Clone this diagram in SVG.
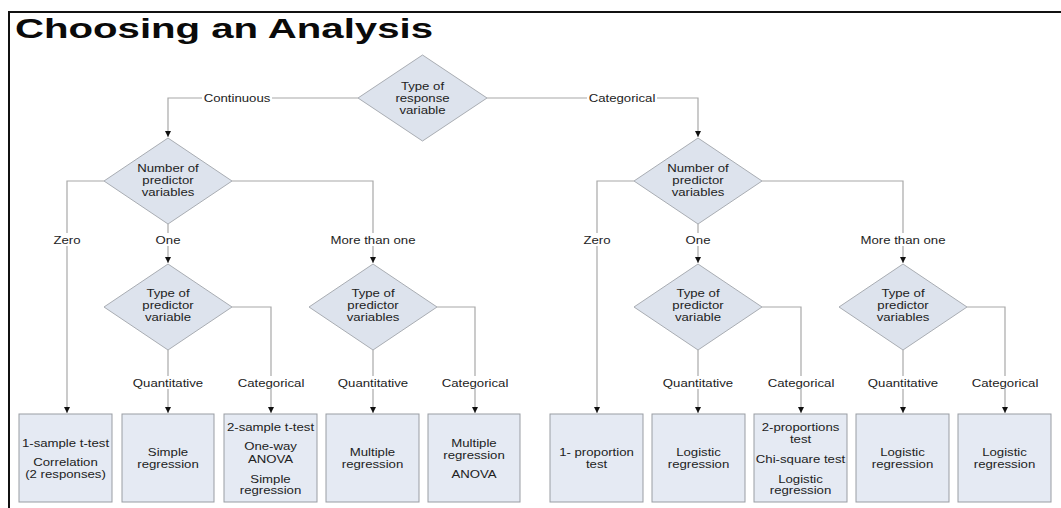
<svg xmlns="http://www.w3.org/2000/svg" width="1061" height="508" viewBox="0 0 1061 508">
<style>
.frame{stroke:#111;stroke-width:2;fill:none}
.title{font-family:"Liberation Sans",Arial,sans-serif;font-weight:bold;font-size:28px;fill:#0a0a0a}
.dia{fill:#dde3ed;stroke:#a9adb3;stroke-width:1}
.box{fill:#e5eaf3;stroke:#999da3;stroke-width:1}
.t{font-family:"Liberation Sans",Arial,sans-serif;font-size:11px;fill:#222;text-anchor:middle}
.conn path{fill:none;stroke:#a8a8a8;stroke-width:1.2;marker-end:url(#arr)}
.lbg{fill:#ffffff}
</style>
<defs>
<marker id="arr" markerUnits="userSpaceOnUse" markerWidth="7" markerHeight="6" refX="6" refY="3" orient="auto">
<path d="M0,0 L6,3 L0,6 z" fill="#111"/>
</marker>
</defs>
<rect width="1061" height="508" fill="#ffffff"/>
<path class="frame" d="M9,508 V12 H1061"/>
<text class="title" x="15" y="38" textLength="418" lengthAdjust="spacingAndGlyphs">Choosing an Analysis</text>

<g id="connectors" class="conn">
<path d="M358,98 H168 V137"/>
<path d="M487,98 H698 V137"/>
<path d="M104,181 H67 V413"/>
<path d="M168,224 V263"/>
<path d="M232,181 H373 V263"/>
<path d="M168,350 V413"/>
<path d="M232,307 H271 V413"/>
<path d="M373,350 V413"/>
<path d="M437,307 H475 V413"/>
<path d="M634,181 H597 V413"/>
<path d="M698,224 V263"/>
<path d="M762,181 H903 V263"/>
<path d="M698,350 V413"/>
<path d="M762,307 H801 V413"/>
<path d="M903,350 V413"/>
<path d="M967,307 H1005 V413"/>
</g>

<g id="labels">
<rect class="lbg" x="202" y="91" width="70" height="13"/>
<text class="t" transform="translate(237 0) scale(1.2 1)" y="102">Continuous</text>
<rect class="lbg" x="587" y="91" width="70" height="13"/>
<text class="t" transform="translate(622 0) scale(1.2 1)" y="102">Categorical</text>
<rect class="lbg" x="52" y="233" width="30" height="13"/>
<text class="t" transform="translate(67 0) scale(1.2 1)" y="244">Zero</text>
<rect class="lbg" x="154" y="233" width="28" height="13"/>
<text class="t" transform="translate(168 0) scale(1.2 1)" y="244">One</text>
<rect class="lbg" x="329" y="233" width="88" height="13"/>
<text class="t" transform="translate(373 0) scale(1.2 1)" y="244">More than one</text>
<rect class="lbg" x="582" y="233" width="30" height="13"/>
<text class="t" transform="translate(597 0) scale(1.2 1)" y="244">Zero</text>
<rect class="lbg" x="684" y="233" width="28" height="13"/>
<text class="t" transform="translate(698 0) scale(1.2 1)" y="244">One</text>
<rect class="lbg" x="859" y="233" width="88" height="13"/>
<text class="t" transform="translate(903 0) scale(1.2 1)" y="244">More than one</text>
<rect class="lbg" x="131" y="376" width="74" height="13"/>
<text class="t" transform="translate(168 0) scale(1.2 1)" y="387">Quantitative</text>
<rect class="lbg" x="236" y="376" width="70" height="13"/>
<text class="t" transform="translate(271 0) scale(1.2 1)" y="387">Categorical</text>
<rect class="lbg" x="336" y="376" width="74" height="13"/>
<text class="t" transform="translate(373 0) scale(1.2 1)" y="387">Quantitative</text>
<rect class="lbg" x="440" y="376" width="70" height="13"/>
<text class="t" transform="translate(475 0) scale(1.2 1)" y="387">Categorical</text>
<rect class="lbg" x="661" y="376" width="74" height="13"/>
<text class="t" transform="translate(698 0) scale(1.2 1)" y="387">Quantitative</text>
<rect class="lbg" x="766" y="376" width="70" height="13"/>
<text class="t" transform="translate(801 0) scale(1.2 1)" y="387">Categorical</text>
<rect class="lbg" x="866" y="376" width="74" height="13"/>
<text class="t" transform="translate(903 0) scale(1.2 1)" y="387">Quantitative</text>
<rect class="lbg" x="970" y="376" width="70" height="13"/>
<text class="t" transform="translate(1005 0) scale(1.2 1)" y="387">Categorical</text>
</g>

<g id="response-type">
<polygon class="dia" points="422.5,55 487,98 422.5,141 358,98"/>
<g class="t" transform="translate(422.5 0) scale(1.2 1)"><text class="t" y="90">Type of</text><text class="t" y="102">response</text><text class="t" y="114">variable</text></g>
</g>

<g id="num-pred-cont">
<polygon class="dia" points="168,138 232,181 168,224 104,181"/>
<g transform="translate(168 0) scale(1.2 1)"><text class="t" y="172.5">Number of</text><text class="t" y="184.5">predictor</text><text class="t" y="196.5">variables</text></g>
</g>
<g id="num-pred-cat">
<polygon class="dia" points="698,138 762,181 698,224 634,181"/>
<g transform="translate(698 0) scale(1.2 1)"><text class="t" y="172.5">Number of</text><text class="t" y="184.5">predictor</text><text class="t" y="196.5">variables</text></g>
</g>

<g id="type-pred-cont-one">
<polygon class="dia" points="168,264 232,307 168,350 104,307"/>
<g transform="translate(168 0) scale(1.2 1)"><text class="t" y="297.5">Type of</text><text class="t" y="309.5">predictor</text><text class="t" y="321.5">variable</text></g>
</g>
<g id="type-pred-cont-more">
<polygon class="dia" points="373,264 437,307 373,350 309,307"/>
<g transform="translate(373 0) scale(1.2 1)"><text class="t" y="297.5">Type of</text><text class="t" y="309.5">predictor</text><text class="t" y="321.5">variables</text></g>
</g>
<g id="type-pred-cat-one">
<polygon class="dia" points="698,264 762,307 698,350 634,307"/>
<g transform="translate(698 0) scale(1.2 1)"><text class="t" y="297.5">Type of</text><text class="t" y="309.5">predictor</text><text class="t" y="321.5">variable</text></g>
</g>
<g id="type-pred-cat-more">
<polygon class="dia" points="903,264 967,307 903,350 839,307"/>
<g transform="translate(903 0) scale(1.2 1)"><text class="t" y="297.5">Type of</text><text class="t" y="309.5">predictor</text><text class="t" y="321.5">variables</text></g>
</g>

<g id="box-1sample">
<rect class="box" x="19" y="414" width="93" height="88"/>
<g transform="translate(65.5 0) scale(1.2 1)"><text class="t" y="446.7">1-sample t-test</text><text class="t" y="466">Correlation</text><text class="t" y="478">(2 responses)</text></g>
</g>
<g id="box-simple-reg">
<rect class="box" x="122" y="414" width="92" height="88"/>
<g transform="translate(168 0) scale(1.2 1)"><text class="t" y="456">Simple</text><text class="t" y="468">regression</text></g>
</g>
<g id="box-2sample">
<rect class="box" x="224" y="414" width="93" height="88"/>
<g transform="translate(270.5 0) scale(1.2 1)"><text class="t" y="430.7">2-sample t-test</text><text class="t" y="450">One-way</text><text class="t" y="462.7">ANOVA</text><text class="t" y="482.7">Simple</text><text class="t" y="494">regression</text></g>
</g>
<g id="box-multiple-reg">
<rect class="box" x="326" y="414" width="93" height="88"/>
<g transform="translate(372.5 0) scale(1.2 1)"><text class="t" y="456">Multiple</text><text class="t" y="468">regression</text></g>
</g>
<g id="box-multiple-anova">
<rect class="box" x="428" y="414" width="92" height="88"/>
<g transform="translate(474 0) scale(1.2 1)"><text class="t" y="446.7">Multiple</text><text class="t" y="458.7">regression</text><text class="t" y="478">ANOVA</text></g>
</g>

<g id="box-1prop">
<rect class="box" x="550" y="414" width="93" height="88"/>
<g transform="translate(596.5 0) scale(1.2 1)"><text class="t" y="456">1- proportion</text><text class="t" y="468">test</text></g>
</g>
<g id="box-logistic-1">
<rect class="box" x="652" y="414" width="93" height="88"/>
<g transform="translate(698.5 0) scale(1.2 1)"><text class="t" y="456">Logistic</text><text class="t" y="468">regression</text></g>
</g>
<g id="box-2prop">
<rect class="box" x="754" y="414" width="93" height="88"/>
<g transform="translate(800.5 0) scale(1.2 1)"><text class="t" y="430.7">2-proportions</text><text class="t" y="442.7">test</text><text class="t" y="462.7">Chi-square test</text><text class="t" y="482.7">Logistic</text><text class="t" y="494">regression</text></g>
</g>
<g id="box-logistic-2">
<rect class="box" x="856" y="414" width="93" height="88"/>
<g transform="translate(902.5 0) scale(1.2 1)"><text class="t" y="456">Logistic</text><text class="t" y="468">regression</text></g>
</g>
<g id="box-logistic-3">
<rect class="box" x="958" y="414" width="93" height="88"/>
<g transform="translate(1004.5 0) scale(1.2 1)"><text class="t" y="456">Logistic</text><text class="t" y="468">regression</text></g>
</g>
</svg>
